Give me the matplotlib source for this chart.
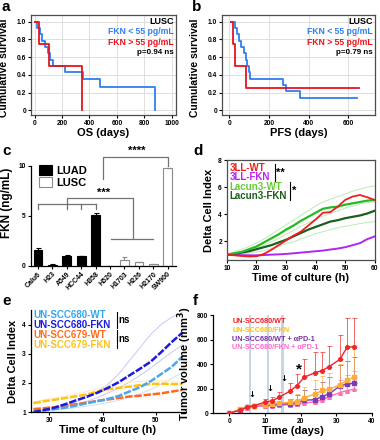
import numpy as np
import matplotlib
matplotlib.use('Agg')
import matplotlib.pyplot as plt

plt.rcParams['font.family'] = ['Liberation Sans', 'DejaVu Sans']
plt.rcParams['font.weight'] = 'bold'
plt.rcParams['axes.labelweight'] = 'bold'
plt.rcParams['xtick.labelsize'] = 4.8
plt.rcParams['ytick.labelsize'] = 4.8
plt.rcParams['xtick.major.size'] = 2
plt.rcParams['ytick.major.size'] = 2
plt.rcParams['xtick.major.pad'] = 1.5
plt.rcParams['ytick.major.pad'] = 1.5
plt.rcParams['axes.linewidth'] = 0.9


### Data ###

# a: overall survival, LUSC
a_low_t = [3, 20, 37, 54, 73, 95, 114, 134, 224, 350, 473, 875]
a_low_s = [1.0, 0.929, 0.857, 0.786, 0.714, 0.643, 0.571, 0.5, 0.429, 0.357, 0.268, 0.0]
a_high_t = [3, 29, 102, 347]
a_high_s = [1.0, 0.75, 0.5, 0.0]

# b: progression free survival, LUSC
b_low_t = [10, 27, 40, 48, 60, 72, 82, 91, 97, 104, 272, 286, 356, 645]
b_low_s = [1.0, 0.929, 0.857, 0.786, 0.714, 0.643, 0.571, 0.5, 0.429, 0.357, 0.286, 0.214, 0.143, 0.143]
b_high_t = [7, 17, 30, 84, 655]
b_high_s = [1.0, 0.75, 0.5, 0.25, 0.25]

# c: FKN secretion by cell line
c_lines = ['Calu6', 'H23', 'A549', 'HCC44', 'H358', 'H520', 'H1703', 'H226', 'H2170', 'SW900']
c_fkn = [1.6, 0.1, 1.02, 0.97, 5.05, 0.02, 0.6, 0.35, 0.15, 9.75]
c_err = [0.22, 0.04, 0.05, 0.05, 0.22, 0.0, 0.28, 0.06, 0.04, 0.0]
n_luad = 5

# d: real-time cell index, murine lines
d_time = [10, 12.5, 15, 17.5, 20, 22.5, 25, 27.5, 30, 32.5, 35, 37.5, 40, 42.5, 45, 47.5,
          50, 52.5, 55, 57.5, 60]
d_3ll_wt = [1.0, 0.95, 0.9, 0.86, 0.88, 1.05, 1.35, 1.7, 2.05, 2.4, 2.7, 3.15, 3.6, 4.1,
            4.15, 4.55, 5.05, 5.3, 5.42, 5.25, 5.05]
d_3ll_fkn = [1.0, 0.98, 0.96, 0.95, 0.95, 0.97, 1.0, 1.02, 1.05, 1.1, 1.15, 1.2, 1.25, 1.3,
             1.38, 1.45, 1.55, 1.7, 1.85, 2.15, 2.35]
d_lac_wt = [1.0, 1.1, 1.2, 1.4, 1.6, 1.9, 2.2, 2.5, 2.85, 3.15, 3.5, 3.8, 4.1, 4.4, 4.5,
            4.55, 4.7, 4.8, 4.9, 5.0, 5.05]
d_lac_fkn = [1.0, 1.05, 1.15, 1.25, 1.4, 1.55, 1.7, 1.9, 2.1, 2.35, 2.6, 2.85, 3.05, 3.25,
             3.45, 3.55, 3.7, 3.8, 3.9, 4.05, 4.25]
d_env_1 = [1.0, 1.2, 1.4, 1.6, 1.85, 2.15, 2.5, 2.85, 3.2, 3.55, 3.9, 4.25, 4.6, 4.9, 5.1,
           5.3, 5.5, 5.7, 5.85, 6.0, 6.1]
d_env_2 = [1.0, 1.05, 1.15, 1.3, 1.5, 1.7, 1.95, 2.2, 2.5, 2.8, 3.1, 3.35, 3.6, 3.85, 4.05,
           4.25, 4.45, 4.6, 4.75, 4.85, 4.9]
d_env_3 = [1.0, 1.0, 1.05, 1.1, 1.2, 1.3, 1.45, 1.6, 1.8, 1.95, 2.15, 2.35, 2.55, 2.7, 2.85,
           3.0, 3.1, 3.2, 3.3, 3.4, 3.45]

# e: real-time cell index, human lines
e_time = [27, 29, 31, 33, 35, 37, 39, 41, 43, 45, 47, 49, 51, 53, 55]
e_680_wt = [1.0, 1.05, 1.1, 1.15, 1.22, 1.3, 1.37, 1.45, 1.55, 1.7, 1.85, 2.05, 2.3, 2.55, 2.9]
e_680_fkn = [1.0, 1.07, 1.15, 1.27, 1.4, 1.52, 1.66, 1.83, 2.02, 2.25, 2.48, 2.72, 3.05, 3.4, 3.72]
e_679_wt = [1.1, 1.13, 1.17, 1.22, 1.27, 1.32, 1.38, 1.43, 1.48, 1.53, 1.56, 1.6, 1.64, 1.7, 1.76]
e_679_fkn = [1.3, 1.37, 1.42, 1.48, 1.54, 1.6, 1.7, 1.78, 1.83, 1.87, 1.92, 1.96, 1.97, 1.96, 1.96]
e_env_blue_hi = [1.0, 1.05, 1.12, 1.22, 1.35, 1.5, 1.7, 1.95, 2.3, 2.75, 3.2, 3.65, 4.0, 4.25, 4.42]
e_env_blue_lo = [1.0, 1.05, 1.1, 1.17, 1.26, 1.37, 1.5, 1.65, 1.82, 2.02, 2.25, 2.5, 2.78, 3.05, 3.3]
e_env_lblue_lo = [1.0, 1.03, 1.07, 1.1, 1.15, 1.2, 1.26, 1.32, 1.4, 1.5, 1.62, 1.77, 1.95, 2.15, 2.35]
e_env_gold = [1.35, 1.42, 1.48, 1.55, 1.62, 1.7, 1.8, 1.9, 1.97, 2.02, 2.05, 2.07, 2.07, 2.06, 2.05]

# f: tumour growth in vivo
f_days = [0, 3, 5, 7, 10, 12, 14, 17, 19, 21, 24, 26, 28, 31, 33, 35]
f_wt = [0, 25, 50, 62, 90, 100, 130, 180, 225, 293, 330, 347, 380, 439, 537, 542]
f_wt_err = [0, 10, 12, 15, 25, 30, 40, 65, 95, 145, 165, 150, 165, 195, 235, 235]
f_fkn = [0, 30, 48, 62, 70, 75, 82, 88, 95, 125, 157, 185, 195, 230, 271, 295]
f_fkn_err = [0, 8, 10, 12, 15, 15, 20, 30, 60, 90, 110, 120, 130, 170, 260, 260]
f_wt_pd1 = [0, 28, 48, 60, 65, 70, 72, 78, 85, 105, 110, 135, 157, 222, 238, 244]
f_wt_pd1_err = [0, 8, 10, 12, 15, 18, 20, 40, 60, 80, 90, 120, 140, 170, 190, 210]
f_fkn_pd1 = [0, 25, 45, 55, 60, 62, 65, 68, 72, 81, 94, 108, 135, 168, 184, 195]
f_fkn_pd1_err = [0, 6, 8, 10, 12, 12, 15, 25, 40, 50, 60, 70, 80, 100, 130, 150]
f_treat_days = [5.85, 10.85, 14.95]
f_arrow_y = [150, 205, 285]


fig = plt.figure(figsize=(3.8, 4.4), dpi=100)

def panel_letter(x, y, s):
    fig.text(x, y, s, fontsize=11, fontweight='bold', va='baseline', ha='left')

col_blue = '#2f7ff0'
col_red = '#e8141e'


### a / b: Kaplan-Meier curves ###
def km_panel(rect, lo_t, lo_s, hi_t, hi_s, xlim, xticks, xlabel, pval):
    ax = fig.add_axes(rect)
    ax.step(lo_t, lo_s, where='post', color=col_blue, lw=1.3, zorder=3)
    ax.step(hi_t, hi_s, where='post', color=col_red, lw=1.3, zorder=4)
    ax.set_xlim(*xlim)
    ax.set_ylim(-0.05, 1.075)
    ax.set_xticks(xticks)
    ax.set_yticks([0, 0.2, 0.4, 0.6, 0.8, 1.0])
    ax.set_yticklabels(['0', '0.2', '0.4', '0.6', '0.8', '1.0'])
    ax.grid(color='0.87', lw=0.7)
    ax.set_axisbelow(True)
    for sp in ax.spines.values():
        sp.set_color('0.3')
    ax.set_xlabel(xlabel, fontsize=8, labelpad=1)
    ax.set_ylabel('Cumulative survival', fontsize=7.5, labelpad=2)
    ax.yaxis.set_label_coords(-0.15, 0.47)
    tx = 0.985
    ax.text(tx, 0.93, 'LUSC', transform=ax.transAxes, ha='right', va='center', fontsize=6.5)
    ax.text(tx, 0.83, 'FKN < 55 pg/mL', transform=ax.transAxes, ha='right', va='center',
            fontsize=6.2, color=col_blue)
    ax.text(tx, 0.72, 'FKN > 55 pg/mL', transform=ax.transAxes, ha='right', va='center',
            fontsize=6.2, color=col_red)
    ax.text(tx, 0.62, pval, transform=ax.transAxes, ha='right', va='center', fontsize=5.8)
    return ax

km_panel([0.082, 0.739, 0.381, 0.227], a_low_t, a_low_s, a_high_t, a_high_s,
         (-25, 1030), [0, 200, 400, 600, 800, 1000], 'OS (days)', 'p=0.94 ns')
ax_b = km_panel([0.584, 0.739, 0.403, 0.227], b_low_t, b_low_s, b_high_t, b_high_s,
                (-38, 735), [0, 200, 400, 600], 'PFS (days)', 'p=0.79 ns')
ax_b.yaxis.set_label_coords(-0.145, 0.47)


### c: FKN ELISA bars ###
ax = fig.add_axes([0.081, 0.396, 0.381, 0.286])
x = np.arange(len(c_lines))
b1 = ax.bar(x[:n_luad], c_fkn[:n_luad], width=0.6, color='black', edgecolor='black', lw=0.8,
            label='LUAD')
ax.errorbar(x[:n_luad], c_fkn[:n_luad], yerr=[np.zeros(n_luad), c_err[:n_luad]], fmt='none',
            ecolor='black', elinewidth=0.8, capsize=1.8, capthick=0.8)
b2 = ax.bar(x[n_luad:], c_fkn[n_luad:], width=0.6, color='white', edgecolor='0.55', lw=0.8,
            label='LUSC')
n_lusc = len(c_lines) - n_luad
ax.errorbar(x[n_luad:], c_fkn[n_luad:], yerr=[np.zeros(n_lusc), c_err[n_luad:]], fmt='none',
            ecolor='0.55', elinewidth=0.8, capsize=1.8, capthick=0.8)
ax.set_xlim(-0.5, 9.55)
ax.set_ylim(0, 12.6)
ax.set_yticks([0, 5, 10])
ax.spines['left'].set_bounds(0, 10)
ax.spines['top'].set_visible(False)
ax.spines['right'].set_visible(False)
ax.set_xticks(x)
ax.set_xticklabels(c_lines, rotation=45, ha='right', rotation_mode='anchor', fontsize=5)
ax.set_ylabel('FKN (ng/mL)', fontsize=8.5, labelpad=4)

# significance brackets
bc = '0.45'
blw = 0.9
ax.plot([0, 4], [6.2, 6.2], color=bc, lw=blw)
for xi in [0, 2, 3, 4]:
    ax.plot([xi, xi], [5.65, 6.2], color=bc, lw=blw)
ax.plot([2, 2, 6.6, 6.6], [6.2, 6.75, 6.75, 2.67], color=bc, lw=blw)
ax.plot([5.05, 8.0], [2.67, 2.67], color=bc, lw=blw)
ax.text(4.55, 6.85, '***', ha='center', va='bottom', fontsize=8)
ax.plot([4.5, 4.5, 9, 9], [8.7, 10.9, 10.9, 9.95], color=bc, lw=blw)
ax.text(6.85, 11.0, '****', ha='center', va='bottom', fontsize=8)
ax.legend(handles=[b1, b2], loc='upper left', bbox_to_anchor=(0.0, 0.86), frameon=False,
          fontsize=8, handlelength=1.2, handleheight=0.9, handletextpad=0.4,
          labelspacing=0.15, borderaxespad=0.3)


### d: xCELLigence murine ###
ax = fig.add_axes([0.597, 0.409, 0.389, 0.227])
for env in [d_env_1, d_env_2, d_env_3]:
    ax.plot(d_time, env, color='#bfe8b8', lw=0.7, zorder=1)
ax.plot(d_time, d_3ll_fkn, color='#b026f2', lw=1.4, zorder=3)
ax.plot(d_time, d_lac_fkn, color='#1d5e1d', lw=1.6, zorder=3)
ax.plot(d_time, d_lac_wt, color='#22bb22', lw=1.6, zorder=3)
ax.plot(d_time, d_3ll_wt, color='#f01e1e', lw=1.3, zorder=4)
ax.set_xlim(10, 60)
ax.set_ylim(0.6, 8)
ax.set_xticks([10, 20, 30, 40, 50, 60])
ax.set_yticks([2, 4, 6, 8])
for sp in ax.spines.values():
    sp.set_color('0.3')
ax.set_xlabel('Time of culture (h)', fontsize=8, labelpad=1)
ax.set_ylabel('Delta Cell Index', fontsize=8, labelpad=3)
d_labels = [('3LL-WT', '#f01e1e'), ('3LL-FKN', '#c020f0'),
            ('Lacun3-WT', '#66cc33'), ('Lacun3-FKN', '#1d5e1d')]
for i, (lab, col) in enumerate(d_labels):
    ax.text(0.02, 0.92 - 0.093 * i, lab, transform=ax.transAxes, color=col, fontsize=7,
            va='center', ha='left')
ax.plot([0.325, 0.325], [0.79, 0.96], transform=ax.transAxes, color='black', lw=0.8)
ax.text(0.335, 0.875, '**', transform=ax.transAxes, fontsize=8, va='center', ha='left')
ax.plot([0.43, 0.43], [0.6, 0.78], transform=ax.transAxes, color='black', lw=0.8)
ax.text(0.44, 0.69, '*', transform=ax.transAxes, fontsize=8, va='center', ha='left')


### e: xCELLigence human ###
ax = fig.add_axes([0.081, 0.0636, 0.406, 0.232])
ax.plot(e_time, e_env_blue_hi, color='#c8c8f4', lw=0.7, zorder=1)
ax.plot(e_time, e_env_blue_lo, color='#c8c8f4', lw=0.7, zorder=1)
ax.plot(e_time, e_env_lblue_lo, color='#c6e2f8', lw=0.7, zorder=1)
ax.plot(e_time, e_env_gold, color='#faebc0', lw=0.7, zorder=1)
dash = (0, (3, 0.7))
ax.plot(e_time, e_679_wt, color='#ff6a1a', lw=1.8, ls=dash, zorder=3)
ax.plot(e_time, e_679_fkn, color='#ffc20e', lw=1.8, ls=dash, zorder=3)
ax.plot(e_time, e_680_wt, color='#4aa6ee', lw=1.8, ls=dash, zorder=3)
ax.plot(e_time, e_680_fkn, color='#1a1ae0', lw=1.8, ls=dash, zorder=4)
ax.set_xlim(26.5, 55.5)
ax.set_ylim(1, 4.5)
ax.set_xticks([30, 40, 50])
ax.set_yticks([1, 2, 3, 4])
ax.spines['top'].set_visible(False)
ax.spines['right'].set_visible(False)
ax.set_xlabel('Time of culture (h)', fontsize=8, labelpad=1)
ax.set_ylabel('Delta Cell Index', fontsize=8, labelpad=3)
e_labels = [('UN-SCC680-WT', '#33a6f0'), ('UN-SCC680-FKN', '#1a1ae0'),
            ('UN-SCC679-WT', '#ff6a1a'), ('UN-SCC679-FKN', '#ffc21a')]
for i, (lab, col) in enumerate(e_labels):
    ax.text(0.015, 0.95 - 0.098 * i, lab, transform=ax.transAxes, color=col, fontsize=7,
            va='center', ha='left')
ax.plot([0.56, 0.56], [0.82, 0.98], transform=ax.transAxes, color='black', lw=0.8)
ax.text(0.57, 0.9, 'ns', transform=ax.transAxes, fontsize=7, va='center', ha='left')
ax.plot([0.56, 0.56], [0.63, 0.8], transform=ax.transAxes, color='black', lw=0.8)
ax.text(0.57, 0.715, 'ns', transform=ax.transAxes, fontsize=7, va='center', ha='left')


### f: tumour volume ###
ax = fig.add_axes([0.561, 0.061, 0.418, 0.223])
for td in f_treat_days:
    ax.axvspan(td - 0.35, td + 0.35, color='#c9d5e2', lw=0, zorder=0)
f_series = [(f_fkn_pd1, f_fkn_pd1_err, '#ff70b8', '^'),
            (f_wt_pd1, f_wt_pd1_err, '#7a3cb8', 's'),
            (f_fkn, f_fkn_err, '#ffad3a', 's'),
            (f_wt, f_wt_err, '#f0262a', 'o')]
for vals, err, col, mk in f_series:
    ax.errorbar(f_days, vals, yerr=[np.zeros(len(err)), err], fmt='none', ecolor=col,
                elinewidth=0.7, capsize=1.8, capthick=0.7, alpha=0.7, zorder=2)
    ax.plot(f_days, vals, color=col, lw=1.0, marker=mk, ms=2.6, zorder=3)
for td, ay in zip(f_treat_days, f_arrow_y):
    ax.text(td + 0.45, ay, '\u2193', ha='center', va='center', fontsize=6,
            family=['DejaVu Sans'])
ax.text(f_days[8] + 0.6, 355, '*', ha='center', va='center', fontsize=11)
ax.set_xlim(-4.5, 40)
ax.set_ylim(0, 800)
ax.set_xticks([0, 10, 20, 30, 40])
ax.set_yticks([0, 200, 400, 600, 800])
ax.spines['top'].set_visible(False)
ax.spines['right'].set_visible(False)
ax.set_xlabel('Time (days)', fontsize=8, labelpad=1)
ax.set_ylabel('Tumor volume (mm$^\\mathbf{3}$)', fontsize=8, labelpad=2)
f_labels = [('UN-SCC680/WT', '#ee1c24'), ('UN-SCC680/FKN', '#ffc000'),
            ('UN-SCC680/WT + \u03b1PD-1', '#7030a0'), ('UN-SCC680/FKN + \u03b1PD-1', '#ff66cc')]
for i, (lab, col) in enumerate(f_labels):
    ax.text(0.12, 0.93 - 0.088 * i, lab, transform=ax.transAxes, color=col, fontsize=5.2,
            va='center', ha='left')


### panel letters ###
panel_letter(0.005, 1 - 11 / 440, 'a')
panel_letter(0.505, 1 - 11 / 440, 'b')
panel_letter(0.005, 1 - 155 / 440, 'c')
panel_letter(0.508, 1 - 155 / 440, 'd')
panel_letter(0.005, 1 - 305 / 440, 'e')
panel_letter(0.508, 1 - 305 / 440, 'f')

fig.savefig('out.png', dpi=100)
plt.close(fig)
